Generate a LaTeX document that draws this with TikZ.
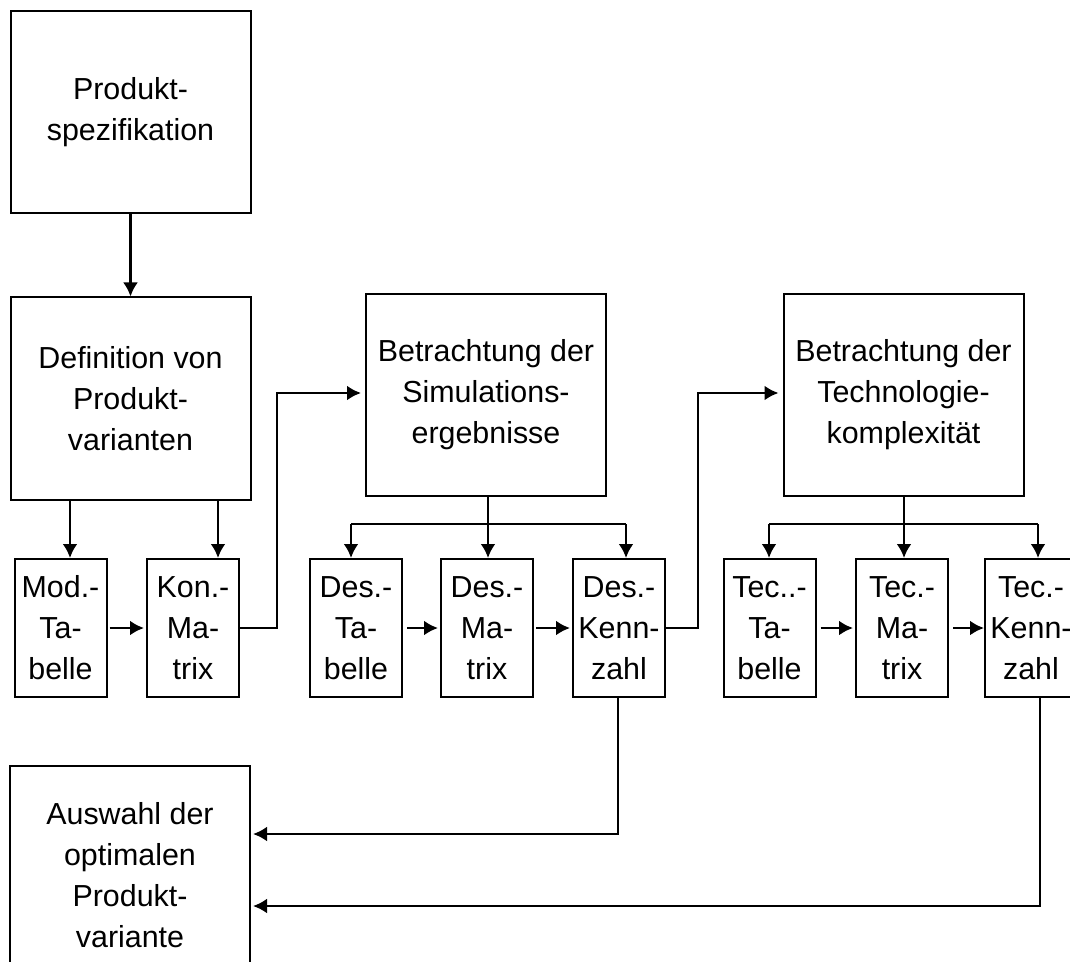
\documentclass[tikz,border=0pt]{standalone}
\usepackage{fontspec}
\setmainfont{Liberation Sans}
\usetikzlibrary{arrows.meta,calc}

\begin{document}
\begin{tikzpicture}[x=0.5pt,y=-0.5pt,
  every node/.style={font=\fontsize{15.2pt}{20.5pt}\selectfont},
  bigbox/.style={draw, line width=1pt, align=center, inner sep=0pt,
                 minimum width=120pt, minimum height=101pt},
  smallbox/.style={draw, line width=1pt, align=center, inner sep=0pt,
                 minimum width=46pt, minimum height=69pt},
  conn/.style={line width=1.3pt},
  arr/.style={line width=1.3pt, -{Latex[length=7pt,width=7.5pt]}},
]
\clip (0,0) rectangle (1070,962);
\fill[white] (0,0) rectangle (1070,962);

% main process boxes
\node[bigbox] (spec) at (130.5,112) {Produkt-\\spezifikation};
\node[bigbox] (def)  at (130.5,398.5) {Definition von\\Produkt-\\varianten};
\node[bigbox] (sim)  at (486,395) {Betrachtung der\\Simulations-\\ergebnisse};
\node[bigbox] (tech) at (903.5,395) {Betrachtung der\\Technologie-\\komplexität};
\node[bigbox, minimum height=109.5pt] (ausw) at (130,875.5)
  {Auswahl der\\optimalen\\Produkt-\\variante};

% result boxes
\node[smallbox] (mod)     at (60.5,628)  {Mod.-\\Ta-\\belle};
\node[smallbox] (kon)     at (193,628)   {Kon.-\\Ma-\\trix};
\node[smallbox] (destab)  at (356,628)   {Des.-\\Ta-\\belle};
\node[smallbox] (desmat)  at (487,628)   {Des.-\\Ma-\\trix};
\node[smallbox] (deskenn) at (619,628)   {Des.-\\Kenn-\\zahl};
\node[smallbox] (tectab)  at (769.5,628) {Tec..-\\Ta-\\belle};
\node[smallbox] (tecmat)  at (902,628)   {Tec.-\\Ma-\\trix};
\node[smallbox] (teckenn) at (1031,628)  {Tec.-\\Kenn-\\zahl};

% helper positions for the routed connectors
\coordinate (xa) at (70,0);
\coordinate (xb) at (218,0);
\coordinate (xk) at (277,393);
\coordinate (xd) at (698,393);
\coordinate (bs) at (0,524);
\coordinate (x1) at (351,0);
\coordinate (x2) at (488,0);
\coordinate (x3) at (626,0);
\coordinate (t1) at (769,0);
\coordinate (t2) at (904,0);
\coordinate (t3) at (1038,0);
\coordinate (ld) at (618,834);
\coordinate (lt) at (1040,906);

% top chain
\draw[arr] (spec.south) -- (def.north);
\draw[arr] (def.south -| xa) -- (mod.north -| xa);
\draw[arr] (def.south -| xb) -- (kon.north -| xb);
\draw[arr, shorten <=1pt, shorten >=1pt] (mod.east) -- (kon.west);
\draw[arr, shorten >=2pt] (kon.east) -| (xk) -- (sim.west |- xk);

% simulation branch
\draw[conn] (sim.south -| x2) -- (bs -| x2);
\draw[conn] (bs -| x1) -- (bs -| x3);
\draw[arr] (bs -| x1) -- (destab.north -| x1);
\draw[arr] (bs -| x2) -- (desmat.north -| x2);
\draw[arr] (bs -| x3) -- (deskenn.north -| x3);
\draw[arr, shorten <=2pt, shorten >=1pt] (destab.east) -- (desmat.west);
\draw[arr, shorten <=1pt, shorten >=1pt] (desmat.east) -- (deskenn.west);
\draw[arr, shorten >=2pt] (deskenn.east) -| (xd) -- (tech.west |- xd);

% technology branch
\draw[conn] (tech.south -| t2) -- (bs -| t2);
\draw[conn] (bs -| t1) -- (bs -| t3);
\draw[arr] (bs -| t1) -- (tectab.north -| t1);
\draw[arr] (bs -| t2) -- (tecmat.north -| t2);
\draw[arr] (bs -| t3) -- (teckenn.north -| t3);
\draw[arr, shorten <=2pt, shorten >=1pt] (tectab.east) -- (tecmat.west);
\draw[arr, shorten <=2pt] (tecmat.east) -- (teckenn.west);

% feedback to the selection
\draw[arr, shorten >=1pt] (deskenn.south -| ld) -- (ld) -- (ausw.east |- ld);
\draw[arr, shorten >=1pt] (teckenn.south -| lt) -- (lt) -- (ausw.east |- lt);
\end{tikzpicture}
\end{document}
